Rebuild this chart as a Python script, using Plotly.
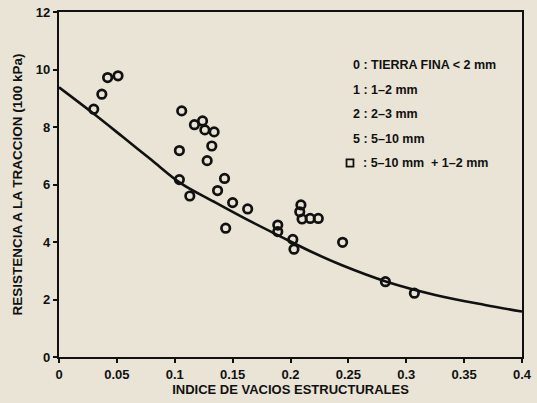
import plotly.graph_objects as go

# Scatter data (TIERRA FINA points)
void_index = [0.030, 0.037, 0.042, 0.051, 0.106, 0.117, 0.124, 0.126, 0.134, 0.132,
              0.104, 0.128, 0.143, 0.104, 0.137, 0.113, 0.150, 0.163, 0.144, 0.189,
              0.189, 0.202, 0.203, 0.209, 0.208, 0.210, 0.217, 0.224, 0.245, 0.282, 0.307]
tensile = [8.62, 9.14, 9.72, 9.78, 8.56, 8.08, 8.21, 7.90, 7.83, 7.34,
           7.18, 6.83, 6.21, 6.17, 5.79, 5.60, 5.37, 5.15, 4.48, 4.59,
           4.36, 4.09, 3.75, 5.29, 5.05, 4.80, 4.82, 4.82, 3.99, 2.62, 2.22]

# Fitted curve
curve_x = [0.0, 0.030, 0.055, 0.080, 0.105, 0.134, 0.163, 0.192, 0.218, 0.244, 0.283, 0.325, 0.368, 0.400]
curve_y = [9.38, 8.46, 7.66, 6.85, 6.05, 5.40, 4.77, 4.18, 3.66, 3.20, 2.62, 2.16, 1.81, 1.58]

x_ticks = [0, 0.05, 0.1, 0.15, 0.2, 0.25, 0.3, 0.35, 0.4]
x_tick_labels = ["0", "0.05", "0.1", "0.15", "0.2", "0.25", "0.3", "0.35", "0.4"]
y_ticks = [0, 2, 4, 6, 8, 10, 12]
y_tick_labels = ["0", "2", "4", "6", "8", "10", "12"]

legend_lines = ["0 : TIERRA FINA < 2 mm", "1 : 1–2 mm", "2 : 2–3 mm", "5 : 5–10 mm",
                ": 5–10 mm  + 1–2 mm"]

BG = "#e9e4d5"
INK = "#111111"
FONT = "Liberation Sans Narrow, Liberation Sans, Arial, sans-serif"

fig = go.Figure()
fig.add_trace(go.Scatter(x=curve_x, y=curve_y, mode="lines",
                         line=dict(color=INK, width=2.6, shape="spline"),
                         showlegend=False, hoverinfo="skip"))
fig.add_trace(go.Scatter(x=void_index, y=tensile, mode="markers",
                         marker=dict(symbol="circle-open", size=8.5,
                                     line=dict(color=INK, width=2.7), color=INK),
                         showlegend=False))

for i, txt in enumerate(legend_lines):
    x_pos = 0.630 if i < 4 else 0.652
    fig.add_annotation(xref="paper", yref="paper", x=x_pos, y=0.846 - i * 0.071,
                       text=txt, showarrow=False, xanchor="left", yanchor="middle",
                       font=dict(family=FONT, size=12.5, color=INK, weight="bold"))
# open square symbol of the last legend line
fig.add_shape(type="rect", xref="paper", yref="paper",
              x0=0.621, x1=0.636, y0=0.552, y1=0.573,
              line=dict(color=INK, width=1.8), fillcolor="rgba(0,0,0,0)")

fig.update_layout(
    width=537, height=403,
    margin=dict(l=59, r=15, t=12, b=46, autoexpand=False),
    paper_bgcolor=BG, plot_bgcolor=BG,
    font=dict(family=FONT, color=INK, size=12, weight="bold"),
    showlegend=False,
)
fig.update_xaxes(range=[0, 0.4], tickvals=x_ticks, ticktext=x_tick_labels,
                 automargin=False,
                 showgrid=False, zeroline=False, showline=True, linecolor=INK,
                 linewidth=2.2, mirror=True, ticks="outside", ticklen=4, tickwidth=2,
                 tickcolor=INK, tickfont=dict(size=13, weight="bold"),
                 title=dict(text="INDICE DE VACIOS ESTRUCTURALES", standoff=2,
                            font=dict(size=13, weight="bold")))
fig.update_yaxes(range=[0, 12], tickvals=y_ticks, ticktext=y_tick_labels,
                 automargin=False,
                 showgrid=False, zeroline=False, showline=True, linecolor=INK,
                 linewidth=2.2, mirror=True, ticks="outside", ticklen=4, tickwidth=2,
                 tickcolor=INK, tickfont=dict(size=13, weight="bold"),
                 title=dict(text="RESISTENCIA A LA TRACCION (100 kPa)", standoff=10,
                            font=dict(size=13.5, weight="bold")))

fig.write_html("out.html",
               config={"displayModeBar": False},
               post_script="document.body.style.margin='0px';"
                           "document.body.style.background='" + BG + "';")
